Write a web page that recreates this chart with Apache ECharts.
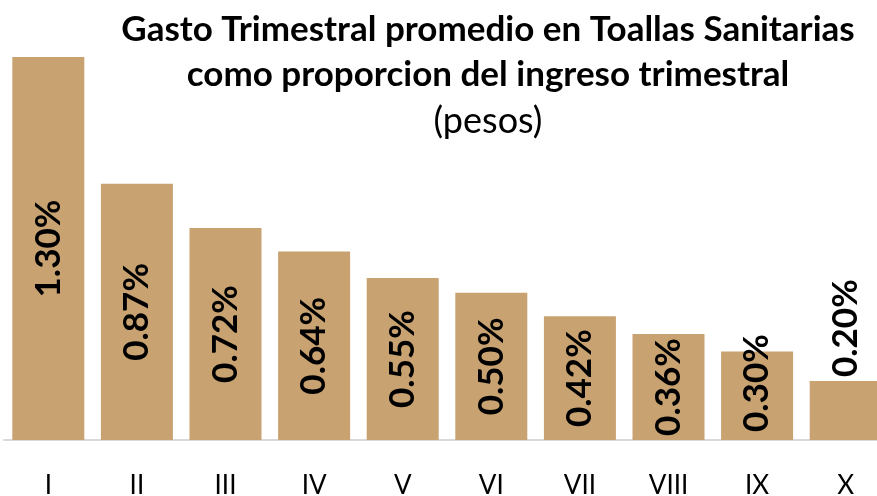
<!DOCTYPE html>
<html>
<head>
<meta charset="utf-8">
<script src="https://cdn.jsdelivr.net/npm/echarts@6/dist/echarts.min.js"></script>
<style>
  html, body { margin: 0; padding: 0; background: #fff; }
  #main { width: 877px; height: 496px; }
</style>
</head>
<body>
<div id="main"></div>
<script>
// deciles
var categories = ['I', 'II', 'III', 'IV', 'V', 'VI', 'VII', 'VIII', 'IX', 'X'];
// gasto como % del ingreso trimestral
var values = [1.30, 0.87, 0.72, 0.64, 0.55, 0.50, 0.42, 0.36, 0.30, 0.20];

var titleLines = [
    'Gasto Trimestral promedio en Toallas Sanitarias',
    'como proporcion del ingreso trimestral',
    '(pesos)'
];

var myChart = echarts.init(document.getElementById('main'));

// etiquetas: dentro de la barra, salvo las barras cortas
var barData = values.map(function (v) {
    var item = { value: v };
    if (v < 0.25) {
        item.label = { position: 'top', align: 'left', verticalAlign: 'middle', distance: 4 };
    } else if (v < 0.33) {
        item.label = { position: 'insideBottom', align: 'left', verticalAlign: 'middle', distance: 8 };
    }
    return item;
});

var option = {
    animation: false,
    title: {
        text: '{b|' + titleLines[0] + '}\n{b|' + titleLines[1] + '}\n{n|' + titleLines[2] + '}',
        left: 483,
        top: 2,
        textAlign: 'center',
        textStyle: {
            rich: {
                b: { fontFamily: 'Lato', fontWeight: 'bold', fontSize: 35, color: '#000', lineHeight: 45 },
                n: { fontFamily: 'Lato', fontWeight: 'normal', fontSize: 36, color: '#000', lineHeight: 48 }
            }
        }
    },
    grid: {
        left: 4,
        right: -13,
        top: 57,
        bottom: 56,
        outerBoundsMode: 'none',
        containLabel: false
    },
    xAxis: {
        type: 'category',
        data: categories,
        axisLine: { lineStyle: { color: '#d9d9d9', width: 2 } },
        axisTick: { show: false },
        axisLabel: {
            color: '#000',
            fontFamily: 'Lato',
            fontSize: 26,
            margin: 33
        }
    },
    yAxis: {
        type: 'value',
        min: 0,
        max: 1.3,
        show: false,
        splitLine: { show: false }
    },
    series: [
        {
            type: 'bar',
            data: barData,
            barWidth: 72,
            itemStyle: { color: '#c8a270' },
            label: {
                show: true,
                position: 'inside',
                rotate: 90,
                fontFamily: 'Lato',
                fontWeight: 'bold',
                fontSize: 35,
                color: '#000',
                formatter: function (p) { return p.value.toFixed(2) + '%'; }
            }
        }
    ]
};
myChart.setOption(option);
</script>
</body>
</html>
